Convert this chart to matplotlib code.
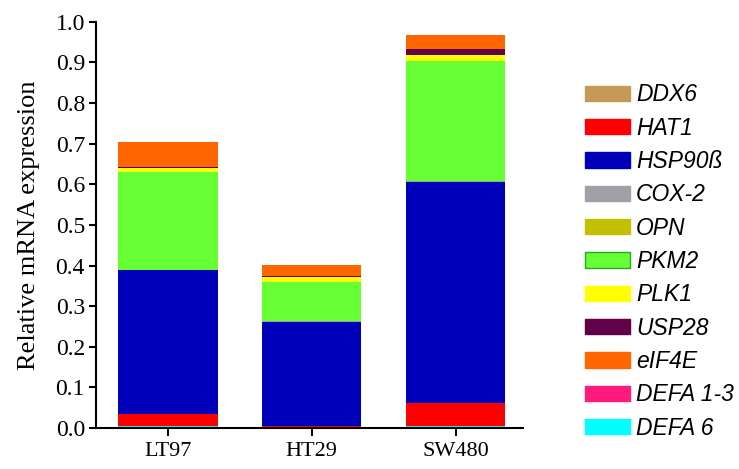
import matplotlib.pyplot as plt
import numpy as np
from matplotlib.patches import Patch

cells = ["LT97", "HT29", "SW480"]

# values per gene, one per cell line (LT97, HT29, SW480)
defa6 = [0.004, 0.0, 0.004]
defa13 = [0.0, 0.0, 0.0]
ddx6 = [0.0, 0.0, 0.0]
hat1 = [0.030, 0.005, 0.057]
hsp90b = [0.356, 0.257, 0.545]
cox2 = [0.0, 0.001, 0.002]
opn = [0.0, 0.0, 0.0]
pkm2 = [0.240, 0.097, 0.296]
plk1 = [0.010, 0.012, 0.015]
usp28 = [0.002, 0.002, 0.013]
eif4e = [0.063, 0.028, 0.036]

legend_names = ["DDX6", "HAT1", "HSP90ß", "COX-2", "OPN", "PKM2", "PLK1",
                "USP28", "eIF4E", "DEFA 1-3", "DEFA 6"]
colors = {
    "DDX6": "#c49a55", "HAT1": "#ff0000", "HSP90ß": "#0000bb",
    "COX-2": "#a0a0a8", "OPN": "#c2c000", "PKM2": "#66ff33",
    "PLK1": "#ffff00", "USP28": "#62004a", "eIF4E": "#ff6600",
    "DEFA 1-3": "#ff1a80", "DEFA 6": "#00ffff",
}

# stacking order, bottom to top
stack = [("DEFA 6", defa6), ("DEFA 1-3", defa13), ("DDX6", ddx6),
         ("HAT1", hat1), ("HSP90ß", hsp90b), ("COX-2", cox2), ("OPN", opn),
         ("PKM2", pkm2), ("PLK1", plk1), ("USP28", usp28), ("eIF4E", eif4e)]

fig = plt.figure(figsize=(7.39, 4.69), dpi=100)
ax = fig.add_axes([0.130, 0.0874, 0.578, 0.866])

x = np.arange(len(cells))
bottom = np.zeros(len(cells))
for name, vals in stack:
    ax.bar(x, vals, 0.69, bottom=bottom, color=colors[name], linewidth=0)
    bottom += np.array(vals)

ax.set_xlim(-0.5, 2.47)
ax.set_ylim(0, 1.0)
ax.set_yticks(np.arange(0, 1.01, 0.1))
ax.set_yticklabels([f"{v:.1f}" for v in np.arange(0, 1.01, 0.1)],
                   family="Liberation Serif", fontsize=17)
ax.set_xticks(x)
ax.set_xticklabels(cells, family="Liberation Serif", fontsize=16)
ax.set_ylabel("Relative mRNA expression", family="Liberation Serif",
              fontsize=19, labelpad=11)

for s in ["top", "right"]:
    ax.spines[s].set_visible(False)
for s in ["left", "bottom"]:
    ax.spines[s].set_linewidth(1.5)
ax.tick_params(axis="y", length=5, width=1.5, pad=3)
ax.tick_params(axis="x", length=6, width=1.5, pad=4)

handles = []
for name in legend_names:
    edge = "#22aa22" if name == "PKM2" else colors[name]
    handles.append(Patch(facecolor=colors[name], edgecolor=edge, linewidth=1))
fig.legend(handles, legend_names, loc="upper left",
           bbox_to_anchor=(0.764, 0.866), frameon=False,
           prop={"family": "Liberation Sans", "style": "italic", "size": 16.5},
           handlelength=1.96, handleheight=0.65, labelspacing=0.45,
           handletextpad=0.25)

plt.savefig("out.png", dpi=100)
